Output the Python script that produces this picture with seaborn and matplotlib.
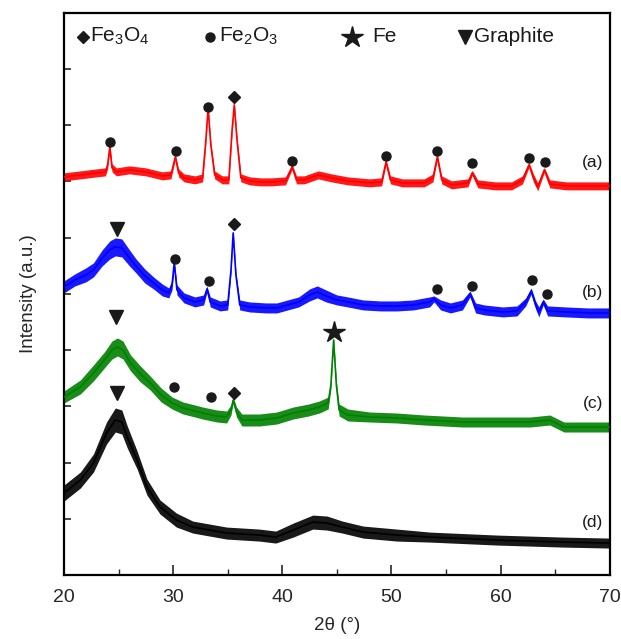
import matplotlib
matplotlib.use("Agg")
import matplotlib.pyplot as plt
import seaborn as sns
import pandas as pd
import numpy as np

# ---- data (2theta in degrees, intensity in arbitrary units) ----
a_x = [20.0, 21.5, 23.0, 23.8, 24.0, 24.2, 24.4, 24.8, 26.0, 27.5, 29.0, 29.8, 30.2, 30.5, 31.0, 32.0, 32.7,
       33.0, 33.2, 33.45, 33.8, 34.5, 35.1, 35.4, 35.6, 35.85, 36.2, 37.0, 38.0, 39.0, 40.3, 40.9, 41.3,
       42.0, 43.3, 44.5, 46.0, 48.0, 49.1, 49.5, 49.9, 51.0, 53.0, 53.8, 54.2, 54.6, 55.5, 57.0, 57.4,
       57.9, 59.5, 61.0, 62.0, 62.6, 63.0, 63.4, 64.0, 64.5, 66.0, 68.0, 70.0]
a_y = [398, 400, 402, 403, 410, 428, 407, 403, 405, 403, 399, 400, 418, 402, 397, 395, 397,
       435, 467, 430, 400, 395, 395, 445, 470, 435, 397, 394, 393, 393, 394, 408, 395,
       395, 400, 397, 394, 392, 393, 413, 395, 392, 392, 397, 418, 395, 390, 392, 402,
       391, 389, 389, 395, 410, 397, 388, 405, 391, 389, 389, 389]
# half-width of the noise band
a_noise = [4, 4, 4, 4, 4, 2.5, 4, 4, 4, 4, 4, 4, 2.5, 4, 4, 4, 4,
           3, 2.5, 3, 4, 4, 4, 3, 2.5, 3, 4, 4, 4, 4, 4, 2.5, 4,
           4, 4, 4, 4, 4, 4, 2.5, 4, 4, 4, 4, 2.5, 4, 4, 4, 2.5,
           4, 4, 4, 4, 2.5, 4, 4, 2.5, 4, 4, 4, 4]

b_x = [20.0, 21.0, 22.0, 22.7, 23.5, 24.2, 24.7, 25.3, 26.0, 26.6, 27.4, 28.2, 29.0, 29.6, 29.9, 30.1,
       30.35, 31.0, 32.0, 32.8, 33.1, 33.4, 34.3, 35.0, 35.3, 35.5, 35.75, 36.1, 37.0, 38.5, 39.5, 40.5,
       41.5, 42.5, 43.2, 44.0, 45.0, 46.0, 47.4, 49.0, 50.5, 52.0, 53.5, 53.9, 54.5, 55.4, 56.5, 57.2,
       57.7, 58.5, 60.2, 61.5, 62.3, 62.8, 63.2, 63.5, 63.9, 64.3, 66.0, 68.0, 70.0]
b_y = [288, 295, 300, 305, 317, 325, 328, 327, 317, 309, 299, 292, 285, 282, 290, 312,
       285, 277, 273, 275, 286, 273, 269, 270, 305, 342, 300, 270, 268, 267, 267, 270,
       273, 280, 283, 279, 275, 273, 270, 269, 269, 270, 273, 276, 270, 267, 270, 281,
       267, 265, 263, 264, 273, 284, 270, 263, 273, 264, 263, 262, 262]
b_noise = [6, 6, 7, 7, 8, 9, 9, 9, 8, 7, 7, 6, 6, 5, 5, 3,
           5, 5, 5, 5, 3, 5, 5, 5, 3, 2.5, 3, 5, 5, 5, 5, 5,
           5, 6, 6, 6, 5, 5, 5, 5, 5, 5, 5, 3, 5, 5, 5, 3,
           5, 5, 5, 5, 4, 3, 4, 5, 3, 5, 5, 5, 5]

c_x = [20.0, 21.5, 22.7, 23.7, 24.4, 24.9, 25.4, 26.1, 27.0, 27.9, 28.9, 29.9, 30.9, 32.0, 32.7, 34.0,
       34.9, 35.3, 35.5, 35.8, 36.3, 37.9, 39.5, 41.0, 42.4, 43.4, 44.2, 44.45, 44.7, 44.95, 45.2, 46.0,
       48.0, 50.5, 53.0, 56.5, 59.0, 62.7, 64.5, 65.8, 68.0, 70.0]
c_y = [178, 188, 202, 215, 225, 228, 225, 212, 201, 192, 180, 172, 167, 164, 162, 159,
       158, 165, 175, 163, 155, 155, 157, 162, 165, 168, 172, 190, 235, 190, 165, 160,
       158, 157, 155, 153, 153, 153, 155, 148, 148, 148]
c_noise = [6, 7, 8, 8, 9, 9, 9, 8, 8, 7, 7, 6, 6, 6, 6, 6,
           6, 5, 3, 5, 6, 6, 6, 6, 6, 6, 6, 4, 2.5, 4, 6, 6,
           5, 5, 5, 5, 5, 5, 5, 5, 5, 5]

d_x = [20.0, 21.5, 22.7, 23.9, 24.7, 25.3, 25.8, 26.7, 27.6, 28.8, 30.3, 31.8, 34.9, 37.9, 39.4, 41.0,
       42.8, 44.1, 45.5, 47.4, 50.5, 53.5, 59.7, 65.7, 70.0]
d_y = [82, 95, 112, 142, 155, 153, 138, 115, 88, 68, 55, 48, 42, 40, 38, 45,
       53, 52, 48, 43, 40, 38, 35, 33, 32]
d_noise = [8, 8, 9, 11, 12, 12, 11, 9, 8, 7, 7, 6, 6, 6, 6, 7,
           7, 7, 6, 6, 6, 5, 5, 5, 5]

curve_names = ["(a)", "(b)", "(c)", "(d)"]
curve_colors = ["#ff0000", "#0000ff", "#008000", "#000000"]
label_y = [412, 282, 172, 53]

# phase markers per pattern
fe3o4_x = [35.6, 35.6, 35.6]
fe3o4_y = [478, 351, 182]
fe2o3_x = [24.2, 30.3, 33.2, 40.9, 49.5, 54.2, 57.4, 62.6, 64.1, 30.2, 33.3, 54.2, 57.4, 62.9, 64.2, 30.1, 33.5]
fe2o3_y = [433, 424, 468, 414, 419, 424, 412, 417, 413, 316, 294, 286, 289, 295, 281, 188, 178]
fe_x = [44.7]
fe_y = [243]
graphite_x = [24.9, 24.8, 24.9]
graphite_y = [346, 258, 182]

legend_labels = [r"Fe$_3$O$_4$", r"Fe$_2$O$_3$", "Fe", "Graphite"]

# ---- plotting ----
sns.set_style("ticks")
plt.rcParams["font.family"] = ["Liberation Sans", "DejaVu Sans"]
plt.rcParams["mathtext.default"] = "regular"

fig = plt.figure(figsize=(6.21, 6.39), dpi=100)
ax = fig.add_axes([0.103, 0.100, 0.879, 0.880])

frames = []
for name, xs, ys in zip(curve_names, [a_x, b_x, c_x, d_x], [a_y, b_y, c_y, d_y]):
    frames.append(pd.DataFrame({"two_theta": xs, "intensity": ys, "sample": name}))
df = pd.concat(frames, ignore_index=True)

# noise band around each pattern
for xs, ys, ns, col in zip([a_x, b_x, c_x, d_x], [a_y, b_y, c_y, d_y],
                           [a_noise, b_noise, c_noise, d_noise], curve_colors):
    ys = np.asarray(ys, float)
    ns = np.asarray(ns, float)
    ax.fill_between(xs, ys - ns, ys + ns, color=col, linewidth=0, alpha=0.9, zorder=2)

sns.lineplot(data=df, x="two_theta", y="intensity", hue="sample", palette=curve_colors,
             estimator=None, sort=False, linewidth=1.2, legend=False, ax=ax, zorder=3)

mk = dict(color="#1a1a1a", linestyle="none", zorder=5)
ax.plot(fe3o4_x, fe3o4_y, marker="D", markersize=6, **mk)
ax.plot(fe2o3_x, fe2o3_y, marker="o", markersize=6.5, **mk)
ax.plot(fe_x, fe_y, marker="*", markersize=16, **mk)
ax.plot(graphite_x, graphite_y, marker="v", markersize=10, **mk)

# header legend
leg_mx = [21.74, 33.4, 46.4, 56.7]
leg_tx = [22.4, 34.2, 48.2, 57.6]
leg_markers = [("D", 6), ("o", 6.5), ("*", 16), ("v", 10)]
for mx, tx, (m, s), lab in zip(leg_mx, leg_tx, leg_markers, legend_labels):
    ax.plot([mx], [538], marker=m, markersize=s, **mk)
    ax.text(tx, 538, lab, fontsize=15, va="center", ha="left", color="#1a1a1a")

for name, ly in zip(curve_names, label_y):
    ax.text(69.4, ly, name, fontsize=12.5, ha="right", va="center", color="#1a1a1a")

ax.set_xlim(20, 70)
ax.set_ylim(0, 562)
ax.set_xticks([20, 30, 40, 50, 60, 70])
ax.set_xticks([25, 35, 45, 55, 65], minor=True)
ax.set_yticks([56.2 * k for k in range(1, 10)])
ax.set_yticklabels([])
ax.tick_params(axis="x", which="major", direction="in", length=7, width=1.2, labelsize=14, pad=10)
ax.tick_params(axis="x", which="minor", direction="in", length=4, width=1.0)
ax.tick_params(axis="y", which="major", direction="in", length=5, width=1.2)
for sp in ax.spines.values():
    sp.set_visible(True)
    sp.set_linewidth(1.6)
    sp.set_color("black")

ax.set_xlabel("2θ (°)", fontsize=13.5, labelpad=8)
ax.set_ylabel("Intensity (a.u.)", fontsize=13.5, labelpad=16)

fig.savefig("out.png", dpi=100)
